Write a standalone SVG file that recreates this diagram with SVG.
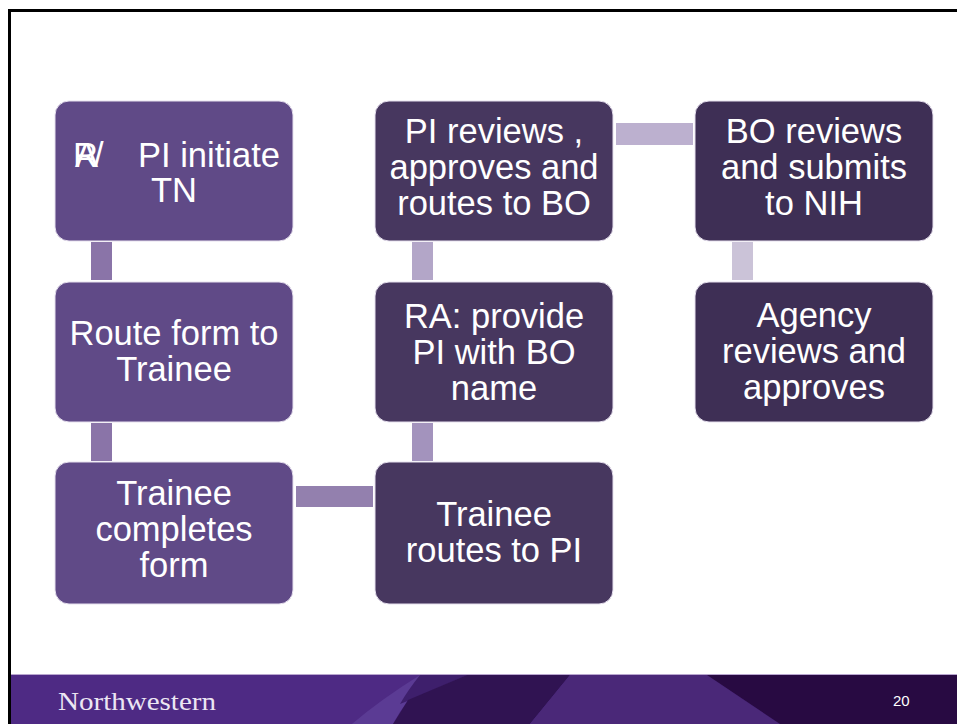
<svg xmlns="http://www.w3.org/2000/svg" width="957" height="724" viewBox="0 0 957 724">
<style>
.node rect{stroke:#e6e0ee;stroke-width:1}
.c1{fill:#604a87}
.c2{fill:#47375f}
.c3{fill:#3e2f55}
.t{font-family:"Liberation Sans",Arial,sans-serif;font-size:34.5px;fill:#ffffff;text-anchor:middle}
</style>
<rect x="0" y="0" width="957" height="724" fill="#ffffff"/>
<g id="frame" fill="none" stroke="#000000" stroke-width="3">
<line x1="8" y1="10.5" x2="957" y2="10.5"/>
<line x1="9.5" y1="9" x2="9.5" y2="724"/>
</g>
<g id="connectors">
<rect x="91" y="242" width="21" height="38" fill="#8a74a8"/>
<rect x="91" y="423" width="21" height="38" fill="#8a74a8"/>
<rect x="296" y="486" width="77" height="21" fill="#9380ae"/>
<rect x="412" y="423" width="21" height="38" fill="#a393bd"/>
<rect x="412" y="242" width="21" height="38" fill="#b3a6c8"/>
<rect x="616" y="123" width="77" height="22" fill="#bcb0cf"/>
<rect x="732" y="242" width="21" height="38" fill="#cbc3d8"/>
</g>
<g id="n1" class="node">
<rect class="c1" x="55" y="101" width="238" height="140" rx="14"/>
<text class="t" style="text-anchor:start" y="167"><tspan x="73">R</tspan><tspan x="75">A</tspan><tspan x="94">/</tspan><tspan x="138">PI initiate</tspan></text>
<text class="t" x="174" y="202">TN</text>
</g>
<g id="n2" class="node">
<rect class="c1" x="55" y="282" width="238" height="140" rx="14"/>
<text class="t" x="174" y="345">Route form to</text>
<text class="t" x="174" y="381">Trainee</text>
</g>
<g id="n3" class="node">
<rect class="c1" x="55" y="462" width="238" height="142" rx="14"/>
<text class="t" x="174" y="505">Trainee</text>
<text class="t" x="174" y="541">completes</text>
<text class="t" x="174" y="577">form</text>
</g>
<g id="n4" class="node">
<rect class="c2" x="375" y="462" width="238" height="142" rx="14"/>
<text class="t" x="494" y="526">Trainee</text>
<text class="t" x="494" y="562">routes to PI</text>
</g>
<g id="n5" class="node">
<rect class="c2" x="375" y="282" width="238" height="140" rx="14"/>
<text class="t" x="494" y="328">RA: provide</text>
<text class="t" x="494" y="364">PI with BO</text>
<text class="t" x="494" y="400">name</text>
</g>
<g id="n6" class="node">
<rect class="c2" x="375" y="101" width="238" height="140" rx="14"/>
<text class="t" x="494" y="143">PI reviews ,</text>
<text class="t" x="494" y="179">approves and</text>
<text class="t" x="494" y="215">routes to BO</text>
</g>
<g id="n7" class="node">
<rect class="c3" x="695" y="101" width="238" height="140" rx="14"/>
<text class="t" x="814" y="143">BO reviews</text>
<text class="t" x="814" y="179">and submits</text>
<text class="t" x="814" y="215">to NIH</text>
</g>
<g id="n8" class="node">
<rect class="c3" x="695" y="282" width="238" height="140" rx="14"/>
<text class="t" x="814" y="327">Agency</text>
<text class="t" x="814" y="363">reviews and</text>
<text class="t" x="814" y="399">approves</text>
</g>
<g id="footer">
<rect x="11" y="674" width="946" height="50" fill="#4e2a84"/>
<line x1="11" y1="674.5" x2="957" y2="674.5" stroke="#b9a6cf" stroke-width="1"/>
<path d="M352,724 Q380,700 420,675 L432,675 Q405,700 393,724 Z" fill="#5b3b94"/>
<path d="M420,675 L467,675 L410,700 L400,704 Q408,690 420,675 Z" fill="#3e1f6c"/>
<polygon points="467,675 570,675 530,724 393,724 408,700" fill="#301352"/>
<polygon points="570,675 707,675 780,724 530,724" fill="#4a2878"/>
<polygon points="707,675 957,675 957,724 780,724" fill="#280a42"/>
<text x="58" y="710" font-family="'Liberation Serif','Times New Roman',serif" font-size="25" fill="#ece6f3" textLength="158" lengthAdjust="spacingAndGlyphs">Northwestern</text>
<text x="893" y="706" font-family="'Liberation Sans',Arial,sans-serif" font-size="15" fill="#ffffff">20</text>
</g>
</svg>
